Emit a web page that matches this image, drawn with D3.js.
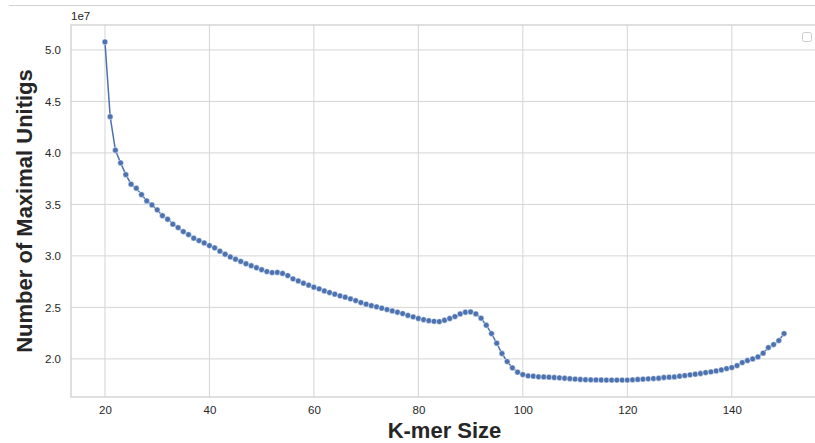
<!DOCTYPE html>
<html>
<head>
<meta charset="utf-8">
<script src="https://cdn.jsdelivr.net/npm/d3@7"></script>
<style>
  body { margin: 0; background: #fff; }
  svg { display: block; }
</style>
</head>
<body>
<script>
// k-mer sizes 20..150, one point per size
var kmers = d3.range(20, 151);

// number of maximal unitigs, in units of 1e7
var unitigs = [
  5.078, 4.352, 4.026, 3.903, 3.789, 3.696, 3.657, 3.595, 3.534, 3.495,
  3.447, 3.391, 3.356, 3.308, 3.275, 3.236, 3.207, 3.172, 3.149, 3.126,
  3.100, 3.078, 3.046, 3.016, 2.990, 2.968, 2.946, 2.924, 2.905, 2.885,
  2.866, 2.848, 2.838, 2.840, 2.830, 2.809, 2.777, 2.757, 2.735, 2.716,
  2.696, 2.680, 2.660, 2.644, 2.628, 2.612, 2.599, 2.583, 2.566, 2.547,
  2.531, 2.517, 2.505, 2.492, 2.479, 2.466, 2.453, 2.440, 2.422, 2.408,
  2.392, 2.381, 2.371, 2.365, 2.362, 2.375, 2.392, 2.411, 2.437, 2.453,
  2.456, 2.437, 2.395, 2.327, 2.246, 2.152, 2.052, 1.974, 1.913, 1.871,
  1.848, 1.835, 1.832, 1.826, 1.825, 1.822, 1.819, 1.816, 1.812, 1.808,
  1.804, 1.800, 1.798, 1.797, 1.796, 1.795, 1.794, 1.794, 1.794, 1.794,
  1.794, 1.797, 1.800, 1.803, 1.806, 1.809, 1.812, 1.819, 1.822, 1.825,
  1.832, 1.838, 1.845, 1.851, 1.858, 1.867, 1.874, 1.883, 1.893, 1.906,
  1.916, 1.935, 1.964, 1.984, 2.000, 2.019, 2.055, 2.110, 2.139, 2.178,
  2.246
];

var xTicks = [20, 40, 60, 80, 100, 120, 140];
var yTicks = [2.0, 2.5, 3.0, 3.5, 4.0, 4.5, 5.0];

var data = kmers.map(function(k, i) { return { k: k, v: unitigs[i] }; });

var width = 815,
    height = 443,
    margin = { top: 25, right: -3, bottom: 46, left: 71 };

var svg = d3.select('body').append('svg')
    .attr('width', width)
    .attr('height', height)
    .style('font-family', '"Liberation Sans", Arial, sans-serif');

// thin rule along the very top of the picture
svg.append('line')
    .attr('x1', 9).attr('x2', width)
    .attr('y1', 5.5).attr('y2', 5.5)
    .attr('stroke', '#d0d0d0')
    .attr('stroke-width', 1);

var w = width - margin.left - margin.right,
    h = height - margin.top - margin.bottom;

// matplotlib style 5% padding around the data
var xExt = d3.extent(kmers), yExt = d3.extent(unitigs);
var xPad = (xExt[1] - xExt[0]) * 0.05, yPad = (yExt[1] - yExt[0]) * 0.05;

var xScale = d3.scaleLinear().domain([xExt[0] - xPad, xExt[1] + xPad]).range([0, w]);
var yScale = d3.scaleLinear().domain([yExt[0] - yPad, yExt[1] + yPad]).range([h, 0]);

var g = svg.append('g')
    .attr('transform', 'translate(' + margin.left + ',' + margin.top + ')');

// grid
g.append('g').selectAll('line')
    .data(xTicks).enter().append('line')
    .attr('x1', function(d) { return xScale(d); })
    .attr('x2', function(d) { return xScale(d); })
    .attr('y1', 0).attr('y2', h)
    .attr('stroke', '#d5d5d5').attr('stroke-width', 1);

g.append('g').selectAll('line')
    .data(yTicks).enter().append('line')
    .attr('y1', function(d) { return yScale(d); })
    .attr('y2', function(d) { return yScale(d); })
    .attr('x1', 0).attr('x2', w)
    .attr('stroke', '#d5d5d5').attr('stroke-width', 1);

// frame (spines)
g.append('rect')
    .attr('x', 0).attr('y', 0)
    .attr('width', w).attr('height', h)
    .attr('fill', 'none')
    .attr('stroke', '#cccccc')
    .attr('stroke-width', 1.25);

// axes, tick marks hidden like seaborn whitegrid
var xAxis = g.append('g')
    .attr('transform', 'translate(0,' + h + ')')
    .call(d3.axisBottom(xScale).tickValues(xTicks).tickSize(0).tickPadding(9).tickFormat(d3.format('d')));

var yAxis = g.append('g')
    .call(d3.axisLeft(yScale).tickValues(yTicks).tickSize(0).tickPadding(10).tickFormat(d3.format('.1f')));

[xAxis, yAxis].forEach(function(ax) {
  ax.select('.domain').remove();
  ax.selectAll('text')
    .attr('fill', '#262626')
    .style('font-size', '11.5px')
    .style('font-family', '"Liberation Sans", Arial, sans-serif');
});

// offset text
g.append('text')
    .attr('x', 0).attr('y', -5)
    .attr('fill', '#262626')
    .style('font-size', '11.5px')
    .text('1e7');

// line + markers
var line = d3.line()
    .x(function(d) { return xScale(d.k); })
    .y(function(d) { return yScale(d.v); });

g.append('path')
    .datum(data)
    .attr('d', line)
    .attr('fill', 'none')
    .attr('stroke', '#4c72b0')
    .attr('stroke-width', 1.5);

g.selectAll('.dot')
    .data(data).enter().append('circle')
    .attr('class', 'dot')
    .attr('cx', function(d) { return xScale(d.k); })
    .attr('cy', function(d) { return yScale(d.v); })
    .attr('r', 2.9)
    .attr('fill', '#4c72b0')
    .attr('stroke', '#ffffff')
    .attr('stroke-width', 0.5);

// empty legend box
svg.append('rect')
    .attr('x', 802.5).attr('y', 32.5)
    .attr('width', 9).attr('height', 9)
    .attr('rx', 2)
    .attr('fill', '#ffffff')
    .attr('stroke', '#cccccc')
    .attr('stroke-width', 1);

// axis labels
svg.append('text')
    .attr('x', margin.left + w / 2)
    .attr('y', 438)
    .attr('text-anchor', 'middle')
    .attr('fill', '#262626')
    .style('font-size', '22px')
    .style('font-weight', 'bold')
    .text('K-mer Size');

svg.append('text')
    .attr('transform', 'translate(32,' + (margin.top + h / 2) + ') rotate(-90)')
    .attr('text-anchor', 'middle')
    .attr('fill', '#262626')
    .style('font-size', '22px')
    .style('font-weight', 'bold')
    .text('Number of Maximal Unitigs');
</script>
</body>
</html>
